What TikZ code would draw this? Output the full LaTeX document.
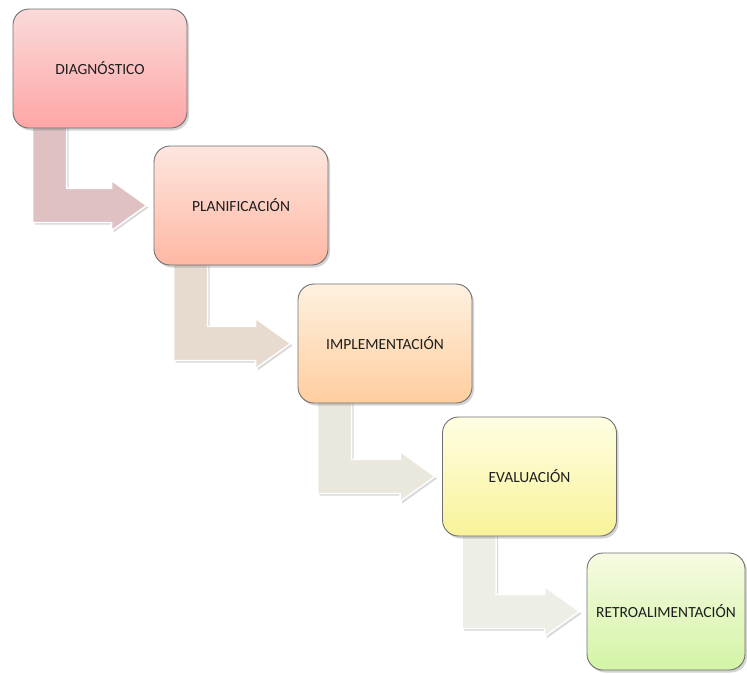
\documentclass[tikz,border=0pt]{standalone}
\usepackage{fontspec}
\setmainfont{Carlito}
\usetikzlibrary{calc, shadows, backgrounds}

\definecolor{diagtop}{HTML}{FADADA}
\definecolor{diagbot}{HTML}{FFA6A6}
\definecolor{plantop}{HTML}{FDE6DE}
\definecolor{planbot}{HTML}{FFB8A4}
\definecolor{impltop}{HTML}{FEF1E0}
\definecolor{implbot}{HTML}{FFCE9E}
\definecolor{evaltop}{HTML}{FFFEE2}
\definecolor{evalbot}{HTML}{F8F39A}
\definecolor{retrotop}{HTML}{F6FBE2}
\definecolor{retrobot}{HTML}{D3F4A6}
\definecolor{flechaA}{HTML}{DFC1C3}
\definecolor{flechaB}{HTML}{E7DBD0}
\definecolor{flechaC}{HTML}{EAE8DC}
\definecolor{flechaD}{HTML}{EDEEE6}
\definecolor{borde}{HTML}{707070}
\definecolor{texto}{HTML}{1E1E1E}

\tikzset{
  etapa/.style={draw=borde, line width=0.9pt, rounded corners=16pt,
    minimum width=174pt, minimum height=119pt, text=texto,
    font=\fontsize{15.5}{18}\selectfont,
    drop shadow={opacity=0.35, shadow xshift=2pt, shadow yshift=-2.5pt}},
  flecha/.style={draw=white, line width=1.4pt,
    drop shadow={opacity=0.3, shadow xshift=2pt, shadow yshift=-2pt}},
}

\begin{document}
\begin{tikzpicture}[x=1pt, y=-1pt]
	\useasboundingbox (0,0) rectangle (747,673);
	%%% Etapas
	\node[etapa, top color=diagtop, bottom color=diagbot] (diag) at (100,68.5) {DIAGNÓSTICO};
	\node[etapa, top color=plantop, bottom color=planbot] (plan) at (241,205.5) {PLANIFICACIÓN};
	\node[etapa, top color=impltop, bottom color=implbot] (impl) at (385,343.5) {IMPLEMENTACIÓN};
	\node[etapa, top color=evaltop, bottom color=evalbot] (eval) at (529.5,476.5) {EVALUACIÓN};
	\node[etapa, top color=retrotop, bottom color=retrobot, minimum width=158pt, minimum height=117pt] (retro) at (666,611.5) {RETROALIMENTACIÓN};
	%%% Flechas
	\begin{scope}[on background layer]
	\foreach \a/\b/\c in {diag/plan/flechaA, plan/impl/flechaB, impl/eval/flechaC, eval/retro/flechaD}
	\draw[flecha, fill=\c] let \p1 = (\a.south west), \p2 = (\b.west) in
		(\x1+20pt,\y1+6pt) -- (\x1+54pt,\y1+6pt) -- (\x1+54pt,\y2+17pt)
		-- (\x2-42pt,\y2+17pt) -- (\x2-42pt,\y2+25pt) -- (\x2-7pt,\y2)
		-- (\x2-42pt,\y2-25pt) -- (\x2-42pt,\y2-17pt) -- (\x1+20pt,\y2-17pt) -- cycle;
	\end{scope}
\end{tikzpicture}
\end{document}
